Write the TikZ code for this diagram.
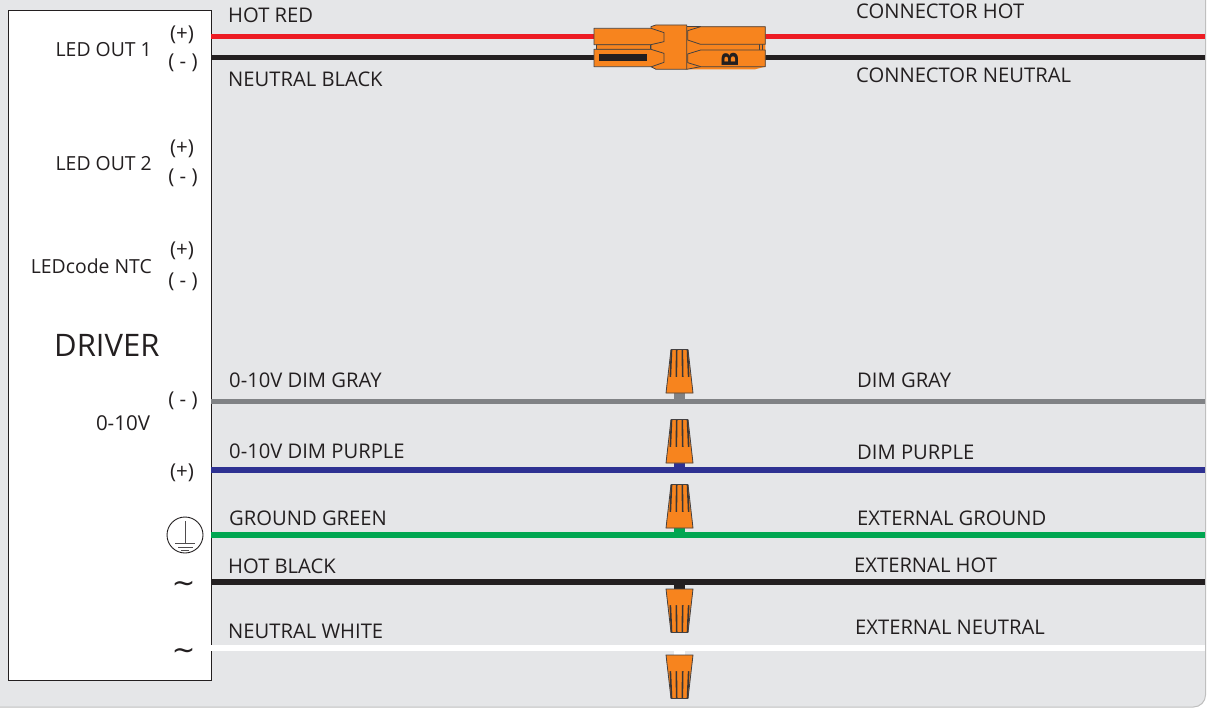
\documentclass[tikz,border=0pt]{standalone}
\usepackage{fontspec}
\setmainfont{Open Sans}
\newfontfamily\symfont{DejaVu Sans}
\usetikzlibrary{positioning}
\definecolor{panelgray}{HTML}{E5E6E8}
\definecolor{inkdark}{HTML}{231F20}
\definecolor{nutorange}{HTML}{F7841E}
\definecolor{wirered}{HTML}{ED1C24}
\definecolor{wiregray}{HTML}{808285}
\definecolor{wirepurple}{HTML}{2E3192}
\definecolor{wiregreen}{HTML}{00A651}
\tikzset{
	wire/.style = {line width=5.2pt},
	stem/.style = {line width=10.5pt},
	lab/.style = {font=\fontsize{20.2}{22}\selectfont, text=inkdark, inner sep=0pt, anchor=base west},
	term/.style = {font=\fontsize{19.4}{22}\selectfont, text=inkdark, inner sep=0pt, anchor=base east},
	pin/.style = {font=\fontsize{20.5}{22}\selectfont, text=inkdark, inner sep=0pt, anchor=base},
	tilde/.style = {font=\symfont\fontsize{28}{28}\selectfont, text=inkdark, inner sep=0pt},
	shell/.style = {draw=inkdark!85, line width=.8pt, fill=nutorange, line join=round},
	earthline/.style = {draw=inkdark!80, line width=.9pt},
}
% wire nut, base at the origin, ribs towards -y
\newcommand{\wirenut}[3]{
	\begin{scope}[shift={(#1,#2)}, yscale=#3]
		\fill[nutorange] (-13.5,0) -- (-8.5,-43.5) -- (8.5,-43.5) -- (13.5,0) -- cycle;
		\foreach \r in {-8,-2.8,2.8,8} {
			\fill[inkdark!90] (\r*1.15-.8,-15) -- (\r-.8,-43) -- (\r+.8,-43) -- (\r*1.15+.8,-15) -- cycle;
		}
		\fill[nutorange] (-13.5,0) -- (-11.6,-16) -- (11.6,-16) -- (13.5,0) -- cycle;
		\draw[inkdark!85, line width=.8pt, line join=round] (-13.5,0) -- (-8.5,-43.5) -- (8.5,-43.5) -- (13.5,0) -- cycle;
	\end{scope}
}
\begin{document}
\begin{tikzpicture}[x=1pt, y=-1pt]
	\useasboundingbox (0,0) rectangle (1209,708);
	\draw[fill=panelgray, draw=black!25, line width=1pt, rounded corners=12pt] (-20,-20) rectangle (1205.5,707);

	\node[draw=inkdark, fill=white, line width=1.2pt, minimum width=203.5pt, minimum height=670pt, inner sep=0pt, anchor=north west] (driver) at (7.5,10) {};

	% wire ends
	\coordinate (redL) at (211,36.5);
	\coordinate (redR) at (1205,36.5);
	\coordinate (blkL) at (211,57.5);
	\coordinate (blkR) at (1205,57.5);
	\coordinate (gryL) at (211,401.5);
	\coordinate (gryR) at (1205,401.5);
	\coordinate (purL) at (211,470);
	\coordinate (purR) at (1205,470);
	\coordinate (grnL) at (211,535);
	\coordinate (grnR) at (1205,535);
	\coordinate (hotL) at (211,582);
	\coordinate (hotR) at (1205,582);
	\coordinate (wh1L) at (211,648);
	\coordinate (wh1R) at (1205,648);
	\coordinate (nutA) at (679.5,393);
	\coordinate (nutB) at (679.5,463);
	\coordinate (nutC) at (679.5,528);
	\coordinate (nutD) at (679.5,589);
	\coordinate (nutE) at (679.5,655);

	\draw[wire, wirered] (redL) -- (redR);
	\draw[wire, inkdark] (blkL) -- (blkR);
	\draw[wire, wiregray] (gryL) -- (gryR);
	\draw[wire, wirepurple] (purL) -- (purR);
	\draw[wire, wiregreen] (grnL) -- (grnR);
	\draw[wire, inkdark] (hotL) -- (hotR);
	\draw[wire, white] (wh1L) -- (wh1R);

	\draw[stem, wiregray] (gryL -| nutA) -- (nutA);
	\draw[stem, wirepurple] (purL -| nutB) -- (nutB);
	\draw[stem, wiregreen] (grnL -| nutC) -- (nutC);
	\draw[stem, inkdark] (hotL -| nutD) -- (nutD);
	\draw[stem, white] (wh1L -| nutE) -- (nutE);

	\wirenut{679.5}{393}{1}
	\wirenut{679.5}{463}{1}
	\wirenut{679.5}{528}{1}
	\wirenut{679.5}{589}{-1}
	\wirenut{679.5}{655}{-1}

	% connector
	\begin{scope}[shift={(570,10)}, x=.3333pt, y=-.3333pt]
		\fill[nutorange] (345,50) -- (586,50) -- (586,170) -- (555,178) -- (345,178) -- cycle;
		\draw[inkdark!85, line width=.8pt] (350,50) -- (392,50);
		\draw[inkdark!85, line width=.8pt] (350,178) -- (392,170);
		\draw[inkdark!85, line width=.8pt] (567,103) -- (567,120) (578,103) -- (578,120);
		\draw[shell] (353,62) -- (392,50) -- (586,50) -- (586,103) -- (392,103) -- (353,90) -- cycle;
		\draw[shell] (353,132) -- (392,120) -- (586,120) -- (586,170) -- (392,170) -- (353,158) -- cycle;
		\draw[shell] (243,50) -- (258,45) -- (350,45) -- (350,178) -- (258,178) -- (243,170) -- cycle;
		\draw[shell] (80,104) rectangle (240,118);
		\draw[shell] (72,55) -- (243,55) -- (282,68) -- (282,95) -- (243,104) -- (72,104) -- cycle;
		\draw[shell] (72,118) -- (243,118) -- (282,130) -- (282,157) -- (245,170) -- (72,170) -- cycle;
		\fill[inkdark] (87,133) rectangle (230,154);
		\node[rotate=90, inner sep=0pt, text=inkdark, font=\fontsize{23}{23}\selectfont\bfseries] (plugB) at (480,148) {B};
	\end{scope}

	% driver side
	\node[term] (out1) at (152,57) {LED OUT 1};
	\node[term] (out2) at (152,171) {LED OUT 2};
	\node[term] (ntc) at (152,274) {LEDcode NTC};
	\node[inner sep=0pt, anchor=base west, text=inkdark, font=\fontsize{31}{32}\selectfont] (drv) at (54,356) {DRIVER};
	\node[pin] (dim) at (123,430) {0-10V};
	\node[pin] (p1) at (182,41) {(+)};
	\node[pin] (m1) at (183,69) {( - )};
	\node[pin] (p2) at (182,155) {(+)};
	\node[pin] (m2) at (183,184) {( - )};
	\node[pin] (p3) at (182,257) {(+)};
	\node[pin] (m3) at (183,288) {( - )};
	\node[pin] (m4) at (183,406) {( - )};
	\node[pin] (p4) at (182,478) {(+)};

	% earth symbol
	\node[draw=inkdark, circle, line width=.9pt, minimum size=36pt, inner sep=0pt] (earth) at (185,535) {};
	\coordinate (earthT) at (185,521);
	\coordinate (earthB) at (185,543);
	\draw[earthline] (earthT) -- (earthB);
	\draw[earthline] (175,543) -- (195,543);
	\draw[earthline] (178,547) -- (193,547);
	\draw[earthline] (181,550.5) -- (189,550.5);

	\node[tilde] (ac1) at (183.5,587) {\char"223C};
	\node[tilde] (ac2) at (183.5,654) {\char"223C};

	% wire names
	\node[lab] (n1) at (228,23) {HOT RED};
	\node[lab] (n2) at (228,87) {NEUTRAL BLACK};
	\node[lab] (n3) at (229,387) {0-10V DIM GRAY};
	\node[lab] (n4) at (229,458) {0-10V DIM PURPLE};
	\node[lab] (n5) at (229,525) {GROUND GREEN};
	\node[lab] (n6) at (228,573) {HOT BLACK};
	\node[lab] (n7) at (228,638) {NEUTRAL WHITE};
	\node[lab] (n8) at (856,19) {CONNECTOR HOT};
	\node[lab] (n9) at (856,83) {CONNECTOR NEUTRAL};
	\node[lab] (n10) at (857,387) {DIM GRAY};
	\node[lab] (n11) at (857,459) {DIM PURPLE};
	\node[lab] (n12) at (857,525) {EXTERNAL GROUND};
	\node[lab] (n13) at (854,572) {EXTERNAL HOT};
	\node[lab] (n14) at (855,634) {EXTERNAL NEUTRAL};
\end{tikzpicture}
\end{document}
